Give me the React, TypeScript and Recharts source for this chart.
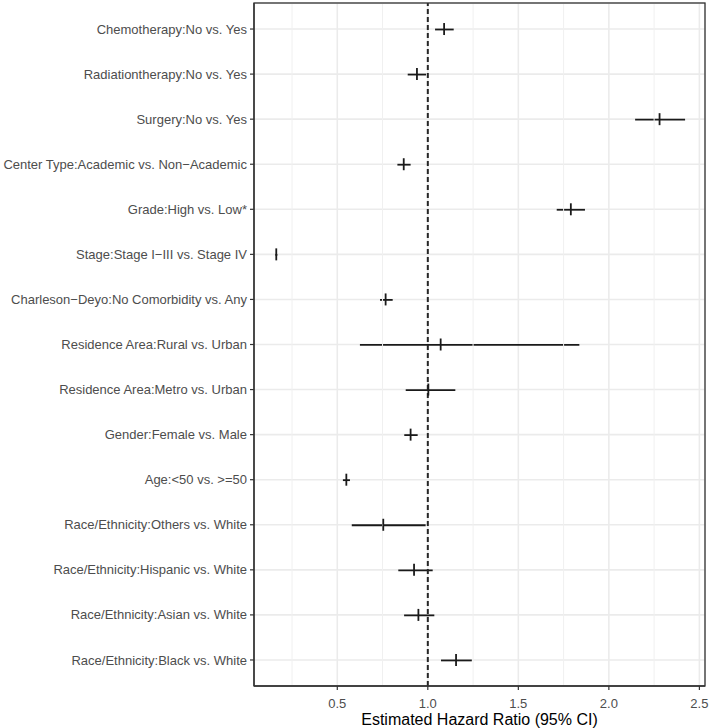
import {
  ComposedChart, Bar, Line, XAxis, YAxis, CartesianGrid, ReferenceLine,
} from 'recharts'

const LABELS = [
  'Chemotherapy:No vs. Yes',
  'Radiationtherapy:No vs. Yes',
  'Surgery:No vs. Yes',
  'Center Type:Academic vs. Non\u2212Academic',
  'Grade:High vs. Low*',
  'Stage:Stage I\u2212III vs. Stage IV',
  'Charleson\u2212Deyo:No Comorbidity vs. Any',
  'Residence Area:Rural vs. Urban',
  'Residence Area:Metro vs. Urban',
  'Gender:Female vs. Male',
  'Age:<50 vs. >=50',
  'Race/Ethnicity:Others vs. White',
  'Race/Ethnicity:Hispanic vs. White',
  'Race/Ethnicity:Asian vs. White',
  'Race/Ethnicity:Black vs. White',
]

const ESTIMATES = [1.09, 0.94, 2.28, 0.867, 1.79, 0.163, 0.767, 1.071, 1.003, 0.905, 0.55, 0.754, 0.924, 0.948, 1.156]
const LOWER = [1.04, 0.889, 2.145, 0.832, 1.712, 0.158, 0.736, 0.625, 0.878, 0.87, 0.531, 0.58, 0.837, 0.869, 1.073]
const UPPER = [1.143, 0.99, 2.421, 0.905, 1.868, 0.169, 0.806, 1.837, 1.152, 0.944, 0.57, 0.988, 1.027, 1.036, 1.243]

const X_DOMAIN = [0.04, 2.531]
const MAJOR_TICKS = [0.5, 1, 1.5, 2, 2.5]
const MINOR_TICKS = [0.25, 0.75, 1.25, 1.75, 2.25]

const data = LABELS.map((label, i) => ({
  label,
  est: ESTIMATES[i],
  lo: LOWER[i],
  hi: UPPER[i],
}))

const W = 709
const H = 728
const MARGIN = { top: 3, right: 4, bottom: 0, left: 0 }
const Y_AXIS_W = 254
const X_AXIS_H = 42

const FONT = '"Liberation Sans", Arial, sans-serif'
const AXIS_TEXT = { fill: '#4d4d4d', fontSize: 13, fontFamily: FONT }
const BORDER = { stroke: '#333333', strokeWidth: 1.3 }

// single-line y tick label (no wrapping)
const YTick = (props: any) => {
  const { x, y, payload } = props
  return (
    <text x={x} y={y} dy="0.35em" textAnchor="end" fill="#4d4d4d" fontSize={13} fontFamily={FONT}>
      {payload.value}
    </text>
  )
}

// horizontal CI segment drawn through the middle of a range bar
const CiShape = (props: any) => {
  const { x, y, width, height } = props
  const cy = y + height / 2
  return <line x1={x} x2={x + width} y1={cy} y2={cy} stroke="#1a1a1a" strokeWidth={1.8} />
}

// "|" point at the estimate
const EstDot = (props: any) => {
  const { cx, cy, index } = props
  return <line key={index} x1={cx} x2={cx} y1={cy - 6} y2={cy + 6} stroke="#1a1a1a" strokeWidth={1.8} />
}

export default function App() {
  const px = MARGIN.left + Y_AXIS_W
  const py = MARGIN.top
  const pw = W - MARGIN.right - px
  const ph = H - MARGIN.bottom - X_AXIS_H - py
  return (
    <div style={{ position: 'absolute', left: 0, top: 0, width: W, height: H, background: '#fff' }}>
      <ComposedChart width={W} height={H} data={data} layout="vertical" margin={MARGIN}>
        <CartesianGrid stroke="#ebebeb" strokeWidth={1.6} />
        {MINOR_TICKS.map((t) => (
          <ReferenceLine key={t} x={t} stroke="#f0f0f0" strokeWidth={1} />
        ))}
        <XAxis
          type="number"
          dataKey="est"
          domain={X_DOMAIN}
          allowDataOverflow
          ticks={MAJOR_TICKS}
          tickFormatter={(v) => v.toFixed(1)}
          tick={AXIS_TEXT}
          tickSize={4}
          tickMargin={9}
          axisLine={BORDER}
          tickLine={{ stroke: '#333', strokeWidth: 1.2 }}
          height={X_AXIS_H}
          label={{
            value: 'Estimated Hazard Ratio (95% CI)',
            position: 'insideBottom',
            offset: 3,
            fill: '#000',
            fontSize: 16,
            fontFamily: FONT,
          }}
        />
        <YAxis
          type="category"
          dataKey="label"
          width={Y_AXIS_W}
          padding={{ top: 3.5, bottom: 3.5 }}
          tick={YTick}
          tickSize={4}
          tickMargin={3}
          axisLine={BORDER}
          tickLine={{ stroke: '#333', strokeWidth: 1.2 }}
          interval={0}
        />
        <ReferenceLine x={1} stroke="#262626" strokeWidth={2} strokeDasharray="5 3" />
        <Bar
          dataKey={(d: any) => [d.lo, d.hi]}
          barSize={10}
          shape={CiShape}
          isAnimationActive={false}
        />
        <Line
          dataKey="est"
          stroke="none"
          dot={EstDot}
          activeDot={false}
          isAnimationActive={false}
        />
      </ComposedChart>
      {/* panel border (theme_bw) */}
      <svg width={W} height={H} style={{ position: 'absolute', left: 0, top: 0, pointerEvents: 'none' }}>
        <rect x={px} y={py} width={pw} height={ph} fill="none" stroke="#333333" strokeWidth={1.3} />
      </svg>
    </div>
  )
}
